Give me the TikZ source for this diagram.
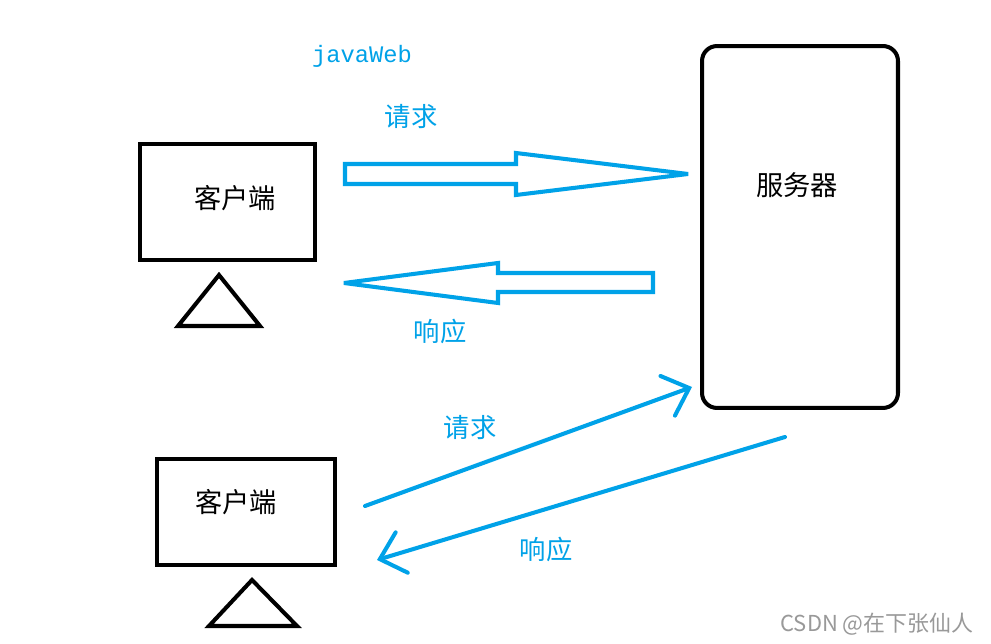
\documentclass[tikz,border=0pt]{standalone}
\usepackage{fontspec}
\newfontfamily\cjk{Noto Sans CJK SC}
\setmonofont{Liberation Mono}
\usetikzlibrary{arrows.meta}
\definecolor{paintblue}{RGB}{0,162,232}
\tikzset{
  pc/.style={draw=black, line width=2.3pt, inner sep=0pt},
  blockarrow/.style={draw=paintblue, line width=2.3pt, line join=miter, miter limit=2},
  thinarrow/.style={draw=paintblue, line width=2.3pt, line cap=round,
    -{Straight Barb[length=13pt,width=24pt,line cap=round]}},
  bluelabel/.style={text=paintblue, font=\cjk\fontsize{15}{15}\selectfont},
  blacklabel/.style={font=\cjk\fontsize{15.5}{16}\selectfont}
}
\begin{document}
\begin{tikzpicture}[x=0.02cm,y=-0.02cm]
    \useasboundingbox[fill=white] (0,0) rectangle (991,644);
    % clients and server
    \node[pc, minimum width=3.5cm, minimum height=2.32cm] (client1) at (227.5,202) {};
    \node[pc, minimum width=3.56cm, minimum height=2.12cm] (client2) at (246,512) {};
    \node[pc, rounded corners=0.3cm, minimum width=3.92cm, minimum height=7.24cm] (server) at (800,227) {};
    \node[blacklabel] (client1txt) at (235,198) {客户端};
    \node[blacklabel] (client2txt) at (236,502) {客户端};
    \node[blacklabel] (servertxt) at (797,185) {服务器};
    \draw[line width=2.3pt, line join=miter] (219,275) -- (260,326) -- (178,326) -- cycle;
    \draw[line width=2.3pt, line join=miter] (252,580) -- (297,626) -- (209,626) -- cycle;
    % block arrows
    \draw[blockarrow] (345,164) -- (516,164) -- (516,153) -- (688,174) -- (516,195)
        -- (516,184) -- (345,184) -- cycle;
    \draw[blockarrow] (653,273) -- (498,273) -- (498,263) -- (344,283) -- (498,303)
        -- (498,292) -- (653,292) -- cycle;
    % thin arrows
    \coordinate (req2a) at (365,506);
    \coordinate (req2b) at (692,387);
    \coordinate (resp2a) at (785,437);
    \coordinate (resp2b) at (377,560);
    \draw[thinarrow] (req2a) -- (req2b);
    \draw[thinarrow] (resp2a) -- (resp2b);
    % labels
    \node[text=paintblue, font=\ttfamily\fontsize{13.5}{14}\selectfont] (title) at (362,56) {javaWeb};
    \node[bluelabel] (req1) at (411,117) {请求};
    \node[bluelabel] (resp1) at (440,331) {响应};
    \node[bluelabel] (req2) at (470,428) {请求};
    \node[bluelabel] (resp2) at (546,549) {响应};
    \node[text=black!40, font=\cjk\fontsize{12.5}{13}\selectfont] (mark) at (877,624) {CSDN @在下张仙人};
\end{tikzpicture}
\end{document}
